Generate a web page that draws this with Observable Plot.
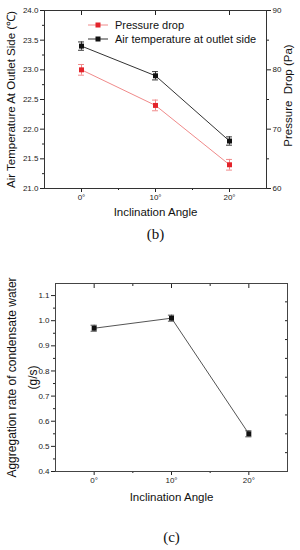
<!DOCTYPE html>
<html>
<head>
<meta charset="utf-8">
<script src="https://cdn.jsdelivr.net/npm/d3@7"></script>
<script src="https://cdn.jsdelivr.net/npm/@observablehq/plot@0.6"></script>
<style>
  html, body { margin: 0; padding: 0; background: #fff; }
  #page { position: relative; width: 300px; height: 550px; overflow: hidden; font-family: "Liberation Sans", Arial, sans-serif; }
  #c1, #c2 { position: absolute; left: 0; width: 300px; }
  #c1 { top: 0; height: 250px; }
  #c2 { top: 250px; height: 300px; }
  #c1 svg, #c2 svg { display: block; }
  #legend { position: absolute; left: 88px; top: 18px; font-size: 11px; color: #111; line-height: 14px; }
  #legend div { display: flex; align-items: center; height: 14px; }
  #legend svg { margin-right: 7px; }
</style>
</head>
<body>
<div id="page">
  <div id="c1"></div>
  <div id="c2"></div>
  <div id="legend"></div>
</div>
<script>
// ---- data ----
const angles = [0, 10, 20];
const angleLabels = ["0°", "10°", "20°"];
const airTemp = [23.4, 22.9, 21.8];
const airTempErr = [0.07, 0.07, 0.07];
const pressureDrop = [80, 74, 64];
const pressureErr = [0.9, 0.9, 0.9];
const aggregation = [0.97, 1.01, 0.55];
const aggregationErr = [0.012, 0.012, 0.012];

const tempMajor = [21, 21.5, 22, 22.5, 23, 23.5, 24];
const tempMinor = [21.25, 21.75, 22.25, 22.75, 23.25, 23.75];
const pressureMajor = [60, 70, 80, 90];
const pressureMinor = [65, 75, 85];
const aggMajor = [0.4, 0.5, 0.6, 0.7, 0.8, 0.9, 1.0, 1.1];
const aggMinor = [0.45, 0.55, 0.65, 0.75, 0.85, 0.95, 1.05];
const aggRight = [0.475, 0.55, 0.625, 0.7, 0.775, 0.85, 0.925, 1.0, 1.075];
const xMinor = [5, 15];

const RED = "#e3242b", RED_LINE = "#f08a8a", BLACK = "#111", BLACK_LINE = "#333";
const capHalf = 0.4;

// map pressure (60-90 Pa) onto temperature axis (21-24)
const p2t = p => 21 + (p - 60) / 10;

const tempData = angles.map((a, i) => ({a, v: airTemp[i], e: airTempErr[i]}));
const presData = angles.map((a, i) => ({a, v: p2t(pressureDrop[i]), e: pressureErr[i] / 10}));
const aggData = angles.map((a, i) => ({a, v: aggregation[i], e: aggregationErr[i]}));

function errMarks(data, color) {
  return [
    Plot.ruleX(data, {x: "a", y1: d => d.v - d.e, y2: d => d.v + d.e, stroke: color, strokeWidth: 1}),
    Plot.ruleY(data, {y: d => d.v - d.e, x1: d => d.a - capHalf, x2: d => d.a + capHalf, stroke: color, strokeWidth: 1}),
    Plot.ruleY(data, {y: d => d.v + d.e, x1: d => d.a - capHalf, x2: d => d.a + capHalf, stroke: color, strokeWidth: 1})
  ];
}

const fmtAngle = d => angleLabels[angles.indexOf(d)];
const tickStyle = {fontSize: 8, fill: "#222", stroke: "#222"};
const T = {fill: "#111", textAnchor: "middle", lineAnchor: "middle"};

// ---- chart (b) ----
const chart1 = Plot.plot({
  width: 300, height: 250,
  marginTop: 10, marginBottom: 62, marginLeft: 44, marginRight: 34,
  style: {fontFamily: "Liberation Sans, Arial, sans-serif", background: "#fff", overflow: "visible"},
  x: {domain: [-5, 25]},
  y: {domain: [21, 24]},
  marks: [
    Plot.axisX({anchor: "bottom", ticks: angles, tickFormat: fmtAngle, tickSize: 4, tickPadding: 2, label: null, ...tickStyle}),
    Plot.axisX({anchor: "bottom", ticks: xMinor, tickSize: 2, text: null, label: null, stroke: "#222"}),
    Plot.axisX({anchor: "top", ticks: angles, tickSize: -4, text: null, label: null, stroke: "#222"}),
    Plot.axisY({anchor: "left", ticks: tempMajor, tickFormat: d3.format(".1f"), tickSize: 4, tickPadding: 2, label: null, ...tickStyle}),
    Plot.axisY({anchor: "left", ticks: tempMinor, tickSize: 2, text: null, label: null, stroke: "#222"}),
    Plot.axisY({anchor: "right", ticks: pressureMajor.map(p2t), tickFormat: d => String(Math.round(60 + (d - 21) * 10)), tickSize: 4, tickPadding: 2, label: null, ...tickStyle}),
    Plot.axisY({anchor: "right", ticks: pressureMinor.map(p2t), tickSize: 2, text: null, label: null, stroke: "#222"}),
    Plot.frame({stroke: "#333", strokeWidth: 1}),
    Plot.line(presData, {x: "a", y: "v", stroke: RED_LINE, strokeWidth: 1}),
    ...errMarks(presData, RED_LINE),
    Plot.dot(presData, {x: "a", y: "v", symbol: "square", r: 2.8, fill: RED, stroke: null}),
    Plot.line(tempData, {x: "a", y: "v", stroke: BLACK_LINE, strokeWidth: 1}),
    ...errMarks(tempData, BLACK_LINE),
    Plot.dot(tempData, {x: "a", y: "v", symbol: "square", r: 2.8, fill: BLACK, stroke: null}),
    Plot.text(["Air Temperature At Outlet Side (℃)"], {frameAnchor: "left", rotate: -90, dx: -33, fontSize: 11.5, ...T}),
    Plot.text(["Pressure  Drop (Pa)"], {frameAnchor: "right", rotate: -90, dx: 22, dy: -4, fontSize: 11.5, ...T}),
    Plot.text(["Inclination Angle"], {frameAnchor: "bottom", dy: 24, fontSize: 11.5, ...T}),
    Plot.text(["(b)"], {frameAnchor: "bottom", dy: 46, fontSize: 15, ...T, fontFamily: "Liberation Serif, Times New Roman, serif"})
  ]
});
document.getElementById("c1").appendChild(chart1);

// ---- chart (c) ----
const chart2 = Plot.plot({
  width: 300, height: 300,
  marginTop: 33, marginBottom: 79, marginLeft: 55, marginRight: 13,
  style: {fontFamily: "Liberation Sans, Arial, sans-serif", background: "#fff", overflow: "visible"},
  x: {domain: [-5, 25]},
  y: {domain: [0.4, 1.148]},
  marks: [
    Plot.axisX({anchor: "bottom", ticks: angles, tickFormat: fmtAngle, tickSize: 4, tickPadding: 2, label: null, ...tickStyle}),
    Plot.axisX({anchor: "bottom", ticks: xMinor, tickSize: 2, text: null, label: null, stroke: "#222"}),
    Plot.axisX({anchor: "top", ticks: angles, tickSize: -4, text: null, label: null, stroke: "#222"}),
    Plot.axisX({anchor: "top", ticks: xMinor, tickSize: -2, text: null, label: null, stroke: "#222"}),
    Plot.axisY({anchor: "left", ticks: aggMajor, tickFormat: d3.format(".1f"), tickSize: 4, tickPadding: 2, label: null, ...tickStyle}),
    Plot.axisY({anchor: "left", ticks: aggMinor, tickSize: 2, text: null, label: null, stroke: "#222"}),
    Plot.axisY({anchor: "right", ticks: aggRight, tickSize: -3, text: null, label: null, stroke: "#222"}),
    Plot.frame({stroke: "#444", strokeWidth: 1}),
    Plot.line(aggData, {x: "a", y: "v", stroke: "#555", strokeWidth: 1}),
    ...errMarks(aggData, "#555"),
    Plot.dot(aggData, {x: "a", y: "v", symbol: "square", r: 2.8, fill: BLACK, stroke: null}),
    Plot.text(["Aggregation rate of condensate water"], {frameAnchor: "left", rotate: -90, dx: -43, fontSize: 12, ...T}),
    Plot.text(["(g/s)"], {frameAnchor: "left", rotate: -90, dx: -22, fontSize: 12, ...T}),
    Plot.text(["Inclination Angle"], {frameAnchor: "bottom", dy: 26, fontSize: 11.5, ...T}),
    Plot.text(["(c)"], {frameAnchor: "bottom", dy: 66, fontSize: 15, ...T, fontFamily: "Liberation Serif, Times New Roman, serif"})
  ]
});
document.getElementById("c2").appendChild(chart2);

// ---- legend ----
const legendItems = [
  {label: "Pressure drop", line: RED_LINE, mark: RED},
  {label: "Air temperature at outlet side", line: BLACK_LINE, mark: BLACK}
];
const leg = document.getElementById("legend");
for (const it of legendItems) {
  const row = document.createElement("div");
  row.innerHTML = `<svg width="20" height="8"><line x1="0" y1="4" x2="20" y2="4" stroke="${it.line}" stroke-width="1"/><rect x="7.5" y="1.5" width="5" height="5" fill="${it.mark}"/></svg><span>${it.label}</span>`;
  leg.appendChild(row);
}
</script>
</body>
</html>
